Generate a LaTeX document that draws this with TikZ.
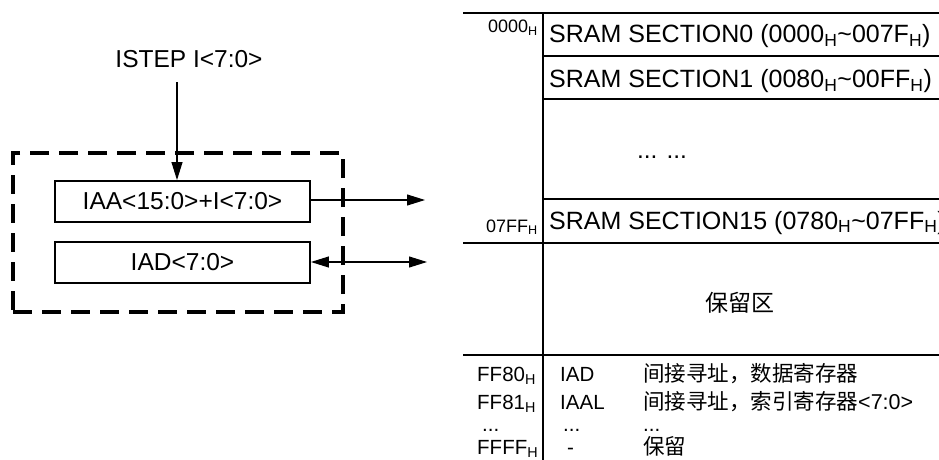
\documentclass[tikz,border=0pt]{standalone}
\usepackage{fontspec}
\setmainfont{Liberation Sans}
\newfontfamily\cjk{Noto Sans CJK SC}
\usetikzlibrary{arrows.meta, positioning, calc}
\newcommand{\hsub}{\textsubscript{H}}

\begin{document}
\begin{tikzpicture}[
    x=1pt, y=-1pt,
    reg/.style={rectangle, draw, line width=1.9pt, minimum width=255pt, minimum height=41pt, inner sep=0pt, font=\fontsize{24.5}{29}\selectfont},
    unit/.style={rectangle, draw, line width=3.2pt, dash pattern=on 19pt off 10pt, minimum width=330pt, minimum height=159pt, inner sep=0pt},
    arrow/.style={-{Triangle[length=18pt, width=11pt]}, line width=1.1pt},
    biarrow/.style={{Triangle[length=18pt, width=11pt]}-{Triangle[length=18pt, width=11pt]}, line width=1.1pt},
    sect/.style={anchor=base west, inner sep=0pt, font=\fontsize{25}{30}\selectfont},
    addr/.style={anchor=base east, inner sep=0pt, font=\fontsize{18}{22}\selectfont},
    row/.style={anchor=base west, inner sep=0pt, font=\fontsize{20.5}{24}\selectfont},
    desc/.style={anchor=base west, inner sep=0pt, font=\fontsize{21.5}{26}\selectfont},
    grid/.style={line width=1.2pt}
]
\clip (0,0) rectangle (939,460);

\node[anchor=base, inner sep=0pt, font=\fontsize{24.5}{29}\selectfont] (istep) at (189,67) {ISTEP I<7:0>};
\node[unit] (core) at (178,232.5) {};
\node[reg] (iaa) at (182.5,201.5) {IAA<15:0>+I<7:0>};
\node[reg] (iad) at (182.5,262.5) {IAD<7:0>};

\coordinate (stepin) at (177,82);
\coordinate (addrout) at (425,200);
\coordinate (dataout) at (427,262);

\draw[arrow] (stepin) -- (stepin |- iaa.north);
\draw[arrow] (iaa.east |- addrout) -- (addrout);
\draw[biarrow] (iad.east |- dataout) -- (dataout);

\draw[grid] (463,13) -- (939,13);
\foreach \y in {56,99,199}
    \draw[grid] (543,\y) -- (939,\y);
\draw[grid] (463,243) -- (939,243);
\draw[grid] (463,355) -- (939,355);
\draw[line width=1.8pt] (543,13) -- (543,460);

\node[addr] (a0000) at (538,33) {0000\hsub};
\node[sect] (sec0) at (549,43) {SRAM SECTION0 (0000\hsub\textasciitilde 007F\hsub)};
\node[sect] (sec1) at (549,88) {SRAM SECTION1 (0080\hsub\textasciitilde 00FF\hsub)};
\node[inner sep=0pt, font=\fontsize{24.5}{29}\selectfont] (secdots) at (662,157) {... ...};
\node[addr] (a07ff) at (538,232) {07FF\hsub};
\node[sect] (sec15) at (549,229) {SRAM SECTION15 (0780\hsub\textasciitilde 07FF\hsub)};
\node[inner sep=0pt, font=\cjk\fontsize{23}{28}\selectfont] (resv) at (740,303) {保留区};

\node[row] (ff80) at (477,381) {FF80\hsub};
\node[row] (iadname) at (560,381) {IAD};
\node[desc] (iaddesc) at (643,381) {\cjk 间接寻址，数据寄存器};
\node[row] (ff81) at (477,409) {FF81\hsub};
\node[row] (iaalname) at (560,409) {IAAL};
\node[desc] (iaaldesc) at (643,409) {{\cjk 间接寻址，索引寄存器}<7:0>};
\node[row] (adots) at (482,431) {...};
\node[row] (ndots) at (563,431) {...};
\node[row] (ddots) at (643,431) {...};
\node[row] (ffff) at (477,454) {FFFF\hsub};
\node[row] (rsvname) at (567,454) {-};
\node[desc] (rsvdesc) at (643,454) {\cjk 保留};

\end{tikzpicture}
\end{document}
